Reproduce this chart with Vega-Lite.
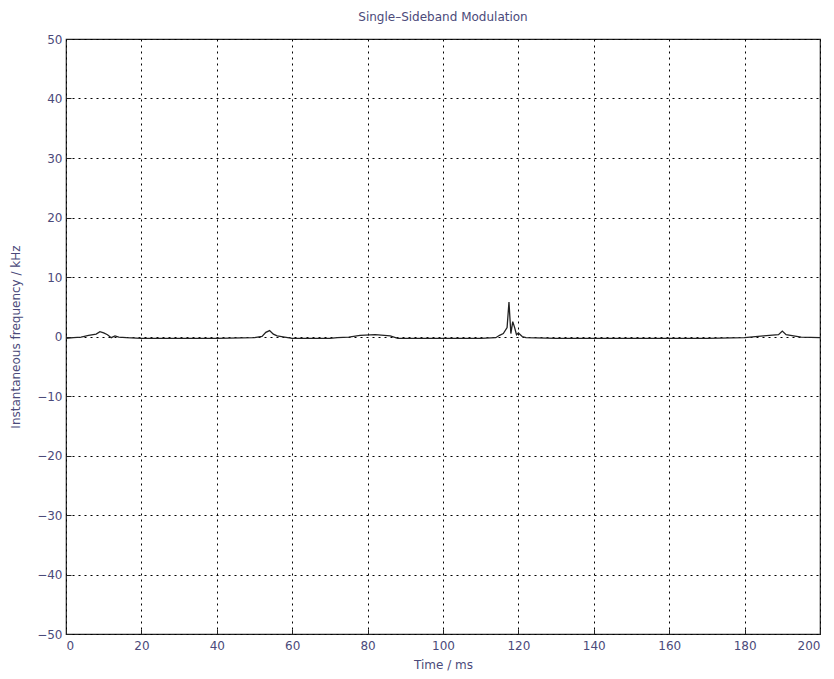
{
  "$schema": "https://vega.github.io/schema/vega-lite/v6.json",
  "width": 754,
  "height": 595,
  "autosize": {"type": "none"},
  "padding": {"left": 66, "top": 39, "right": 14, "bottom": 45},
  "background": "white",
  "title": {"text": "Single\u2013Sideband Modulation", "fontSize": 12, "font": "DejaVu Sans", "fontWeight": "normal", "color": "#4b4a7a", "offset": 9},
  "config": {
    "view": {"stroke": "#222222", "strokeWidth": 1.2},
    "axis": {
      "labelFont": "DejaVu Sans", "labelFontSize": 12, "labelColor": "#4b4a7a",
      "titleFont": "DejaVu Sans", "titleFontSize": 12, "titleColor": "#4b4a7a", "titleFontWeight": "normal",
      "grid": true, "gridColor": "#000000", "gridDash": [2, 4], "gridOpacity": 1, "gridWidth": 1,
      "domain": false, "tickColor": "#222222", "tickSize": -5
    }
  },
  "data": {"values": [
    {"t": 0, "f": -0.3}, {"t": 2, "f": -0.2}, {"t": 4, "f": -0.1}, {"t": 6, "f": 0.2}, {"t": 8, "f": 0.4},
    {"t": 9, "f": 0.8}, {"t": 10, "f": 0.6}, {"t": 11, "f": 0.3}, {"t": 12, "f": -0.2}, {"t": 13, "f": 0.1},
    {"t": 14, "f": -0.1}, {"t": 16, "f": -0.2}, {"t": 20, "f": -0.3}, {"t": 30, "f": -0.3}, {"t": 40, "f": -0.3},
    {"t": 50, "f": -0.2}, {"t": 52, "f": 0.0}, {"t": 53, "f": 0.7}, {"t": 54, "f": 1.0}, {"t": 55, "f": 0.4},
    {"t": 56, "f": 0.1}, {"t": 58, "f": -0.1}, {"t": 60, "f": -0.3}, {"t": 70, "f": -0.3}, {"t": 72, "f": -0.2},
    {"t": 75, "f": -0.1}, {"t": 78, "f": 0.2}, {"t": 82, "f": 0.3}, {"t": 86, "f": 0.1}, {"t": 88, "f": -0.3},
    {"t": 100, "f": -0.3}, {"t": 110, "f": -0.3}, {"t": 114, "f": -0.2}, {"t": 115, "f": 0.2}, {"t": 116, "f": 0.5},
    {"t": 117, "f": 1.5}, {"t": 117.5, "f": 5.8}, {"t": 118, "f": 0.5}, {"t": 118.5, "f": 2.5}, {"t": 119, "f": 1.5},
    {"t": 119.5, "f": 0.3}, {"t": 120, "f": 0.6}, {"t": 121, "f": 0.0}, {"t": 122, "f": -0.2}, {"t": 130, "f": -0.3},
    {"t": 140, "f": -0.3}, {"t": 150, "f": -0.3}, {"t": 160, "f": -0.3}, {"t": 170, "f": -0.3}, {"t": 180, "f": -0.2},
    {"t": 185, "f": 0.1}, {"t": 189, "f": 0.3}, {"t": 190, "f": 0.9}, {"t": 191, "f": 0.3}, {"t": 195, "f": -0.1},
    {"t": 200, "f": -0.2}
  ]},
  "mark": {"type": "line", "color": "#222222", "strokeWidth": 1.3},
  "encoding": {
    "x": {"field": "t", "type": "quantitative", "scale": {"domain": [0, 200], "nice": false},
          "axis": {"title": "Time / ms", "values": [0, 20, 40, 60, 80, 100, 120, 140, 160, 180, 200], "labelPadding": 11, "titlePadding": 8}},
    "y": {"field": "f", "type": "quantitative", "scale": {"domain": [-50, 50], "nice": false},
          "axis": {"title": "Instantaneous frequency / kHz", "values": [-50, -40, -30, -20, -10, 0, 10, 20, 30, 40, 50], "labelPadding": 9, "titlePadding": 14}}
  }
}
